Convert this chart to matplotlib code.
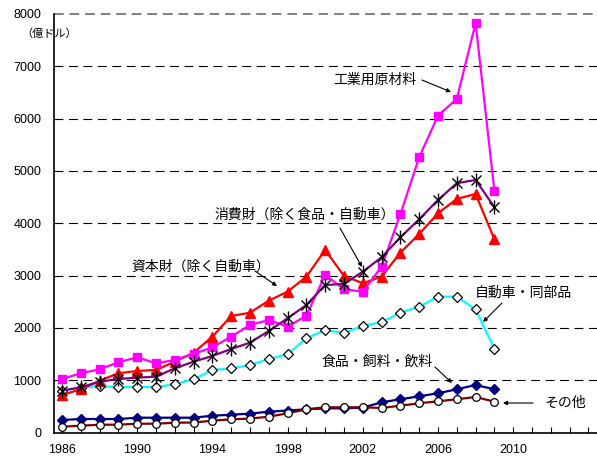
import matplotlib
matplotlib.use("Agg")
import matplotlib.pyplot as plt
import numpy as np

plt.rcParams['font.family'] = ['Liberation Sans', 'Noto Sans CJK JP', 'DejaVu Sans']

years = list(range(1986, 2010))

industrial = [1023, 1132, 1208, 1342, 1438, 1323, 1386, 1501, 1629, 1832, 2055, 2151,
              2023, 2233, 3011, 2738, 2693, 3170, 4172, 5262, 6057, 6377, 7824, 4623]
capital = [717, 826, 990, 1132, 1176, 1195, 1354, 1526, 1832, 2227, 2291, 2520,
           2693, 2979, 3489, 2992, 2853, 2979, 3438, 3795, 4191, 4465, 4560, 3694]
consumer = [800, 864, 971, 1023, 1048, 1067, 1227, 1354, 1463, 1597, 1717, 1941,
            2184, 2438, 2820, 2839, 3075, 3350, 3732, 4076, 4446, 4765, 4828, 4306]
autos = [800, 857, 889, 864, 876, 864, 927, 1017, 1195, 1227, 1290, 1405,
         1495, 1801, 1960, 1897, 2042, 2107, 2291, 2406, 2597, 2597, 2355, 1597]
foods = [239, 258, 258, 258, 283, 283, 283, 283, 321, 340, 360, 398,
         420, 443, 462, 462, 475, 577, 635, 692, 750, 826, 908, 826]
other = [111, 130, 149, 149, 168, 168, 187, 190, 226, 252, 266, 302,
         367, 443, 482, 482, 482, 468, 513, 558, 597, 635, 679, 589]

ytick_vals = [0, 1000, 2000, 3000, 4000, 5000, 6000, 7000, 8000]
xtick_vals = [1986, 1990, 1994, 1998, 2002, 2006, 2010]

W, H = 597, 457
fig = plt.figure(figsize=(W / 100, H / 100), dpi=100)
ax = fig.add_axes([54 / W, (H - 432.5) / H, (W - 54) / W, (432.5 - 14) / H])

ax.set_ylim(0, 8000)
ax.set_xlim(1986 - 8 / 18.8, 1986 + (W - 62) / 18.8)

for v in ytick_vals[1:-1]:
    ax.axhline(v, color='black', lw=0.8, linestyle=(0, (8, 5)), zorder=1)
ax.axhline(ytick_vals[-1], color='#808080', lw=1.4, linestyle=(0, (5, 3)), zorder=1, clip_on=False)

lw = 1.6
ax.plot(years, foods, color='#000080', lw=lw, marker='D', ms=5,
        mfc='#000080', mec='#000080', zorder=3)
ax.plot(years, other, color='#800000', lw=lw, marker='o', ms=5.5,
        mfc='white', mec='black', mew=0.9, zorder=3)
ax.plot(years, autos, color='#00FFFF', lw=lw, marker='D', ms=5,
        mfc='white', mec='black', mew=0.9, zorder=3)
ax.plot(years, capital, color='#FF0000', lw=lw, marker='^', ms=6.5,
        mfc='#FF0000', mec='#FF0000', zorder=4)
ax.plot(years, industrial, color='#FF00FF', lw=lw, marker='s', ms=6,
        mfc='#FF00FF', mec='#FF00FF', zorder=4)
ax.plot(years, consumer, color='#800080', lw=lw, zorder=5)
ax.plot(years, consumer, linestyle='none', marker='x', ms=7.5, mec='black', mew=1.0, zorder=6)
ax.plot(years, consumer, linestyle='none', marker='|', ms=9.5, mec='black', mew=1.0, zorder=6)

for s in ['top', 'right']:
    ax.spines[s].set_visible(False)
ax.spines['left'].set_linewidth(1.2)
ax.spines['bottom'].set_linewidth(1.2)

ax.set_yticks(ytick_vals)
ax.set_yticklabels([str(v) for v in ytick_vals])
ax.tick_params(axis='y', length=0, pad=9, labelsize=9)
ax.set_xticks(xtick_vals)
ax.set_xticklabels([str(v) for v in xtick_vals])
ax.set_xticks(list(range(1986, 2015)), minor=True)
ax.tick_params(axis='x', which='both', direction='in', length=4, width=0.8, pad=8, labelsize=9)

jp = ['Noto Sans CJK JP', 'DejaVu Sans']
fig.text(21 / W, 1 - 34 / H, '（億ドル）', fontsize=8, family=jp, va='center', ha='left', zorder=0)

def px(x, y):
    return (x / W, 1 - y / H)

labels = [
    ('工業用原材料', 333, 80, (422, 80), (451, 92)),
    ('消費財（除く食品・自動車）', 214, 215, (340, 228), (362, 267)),
    ('資本財（除く自動車）', 131, 267, (255, 271), (277, 286)),
    ('自動車・同部品', 475, 293, (502, 303), (483, 322)),
    ('食品・飼料・飲料', 322, 362, (435, 367), (452, 383)),
    ('その他', 545, 403, (533, 403), (503, 403)),
]
for text, tx, ty, tail, head in labels:
    fig.text(tx / W, 1 - ty / H, text, fontsize=10, family=jp, va='center', ha='left')
    ax.annotate('', xy=px(*head), xycoords='figure fraction',
                xytext=px(*tail), textcoords='figure fraction',
                arrowprops=dict(arrowstyle='-|>', color='black', lw=0.8,
                                mutation_scale=6, shrinkA=0, shrinkB=0))

fig.savefig('out.png', dpi=100)
